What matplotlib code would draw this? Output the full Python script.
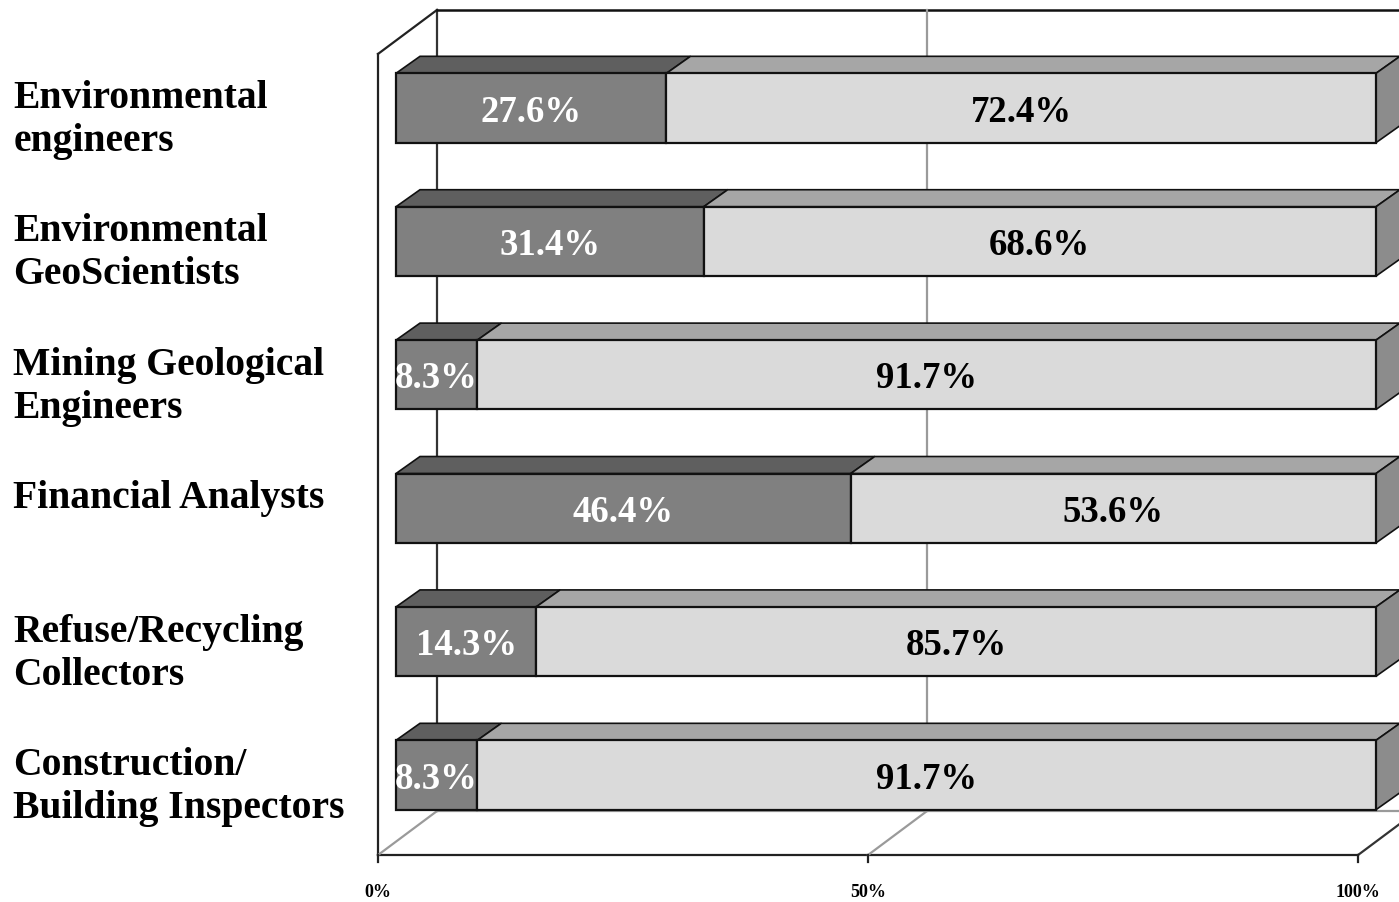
import numpy as np
import matplotlib
matplotlib.use("Agg")
import matplotlib.pyplot as plt
from matplotlib.patches import Polygon

# datos
categorias = ["Environmental\nengineers", "Environmental\nGeoScientists",
              "Mining Geological\nEngineers", "Financial Analysts",
              "Refuse/Recycling\nCollectors", "Construction/\nBuilding Inspectors"]
serie_oscura = [27.6, 31.4, 8.3, 46.4, 14.3, 8.3]
serie_clara = [72.4, 68.6, 91.7, 53.6, 85.7, 91.7]
ticks_x = [0, 50, 100]

plt.rcParams['font.family'] = ['Liberation Serif', 'DejaVu Serif']

# escala: 9.8 px por %, 133.4 px por fila
fig = plt.figure(figsize=(13.99, 9.02), dpi=100)
ax = fig.add_axes([0, 0, 1, 1])
ax.set_xlim(-378 / 9.8, (1399 - 378) / 9.8)
ax.set_ylim((902 - 108) / 133.4, -108 / 133.4)
ax.axis('off')

# profundidad de la caja 3D y de las barras
wdx, wdy = 59 / 9.8, -44 / 133.4
bdx, bdy = 24 / 9.8, -17 / 133.4
off = 18 / 9.8
h = 0.52
y_suelo = 5.6
y_techo = -0.735

gris = '#9a9a9a'
# pared del fondo y pared izquierda
ax.plot([0, 0], [y_techo - wdy, y_suelo], color='#222222', lw=1.6)
ax.plot([0, wdx], [y_techo - wdy, y_techo], color='#222222', lw=1.6)
ax.plot([wdx, wdx], [y_techo, y_suelo + wdy], color='#333333', lw=1.6)
ax.plot([wdx, 100 + wdx], [y_techo, y_techo], color='#111111', lw=1.8)
ax.plot([50 + wdx, 50 + wdx], [y_techo, y_suelo + wdy], color=gris, lw=1.6)
# suelo
ax.plot([0, 100], [y_suelo, y_suelo], color='#222222', lw=1.6)
ax.plot([wdx, 100 + wdx], [y_suelo + wdy, y_suelo + wdy], color=gris, lw=1.6)
for t in ticks_x:
    c = gris if t < 100 else '#333333'
    ax.plot([t, t + wdx], [y_suelo, y_suelo + wdy], color=c, lw=1.6)
    ax.plot([t, t], [y_suelo, y_suelo + 7 / 133.4], color='#222222', lw=1.6)
    ax.text(t, 5.88, f"{t}%", ha='center', va='center', fontsize=13, fontweight='bold')

# barras
for i, (a, b) in enumerate(zip(serie_oscura, serie_clara)):
    segs = [(off, a, '#808080', '#5f5f5f', 'white'),
            (off + a, b, '#dadada', '#a6a6a6', 'black')]
    top = i - h / 2
    for x0, w, cf, ct, ctxt in segs:
        x1 = x0 + w
        ax.barh(i, w, left=x0, height=h, color=cf, edgecolor='#111111', linewidth=1.6, zorder=3)
        ax.add_patch(Polygon([(x0, top), (x1, top), (x1 + bdx, top + bdy), (x0 + bdx, top + bdy)],
                             facecolor=ct, edgecolor='#111111', lw=1.2, zorder=2))
        ax.text(x0 + w / 2, i + 0.03, f"{w}%", ha='center', va='center', color=ctxt,
                fontsize=26.5, fontweight='bold', zorder=4)
    x1 = off + a + b
    ax.add_patch(Polygon([(x1, top), (x1 + bdx, top + bdy), (x1 + bdx, top + h + bdy), (x1, top + h)],
                         facecolor='#8c8c8c', edgecolor='#111111', lw=1.2, zorder=2))

# etiquetas de categoria
for i, cat in enumerate(categorias):
    dy = 0.09 if '\n' in cat else -0.07
    ax.text(-37.2, i + dy, cat, ha='left', va='center', fontsize=28.5,
            fontweight='bold', linespacing=1.22)

fig.savefig('out.png', dpi=100)
